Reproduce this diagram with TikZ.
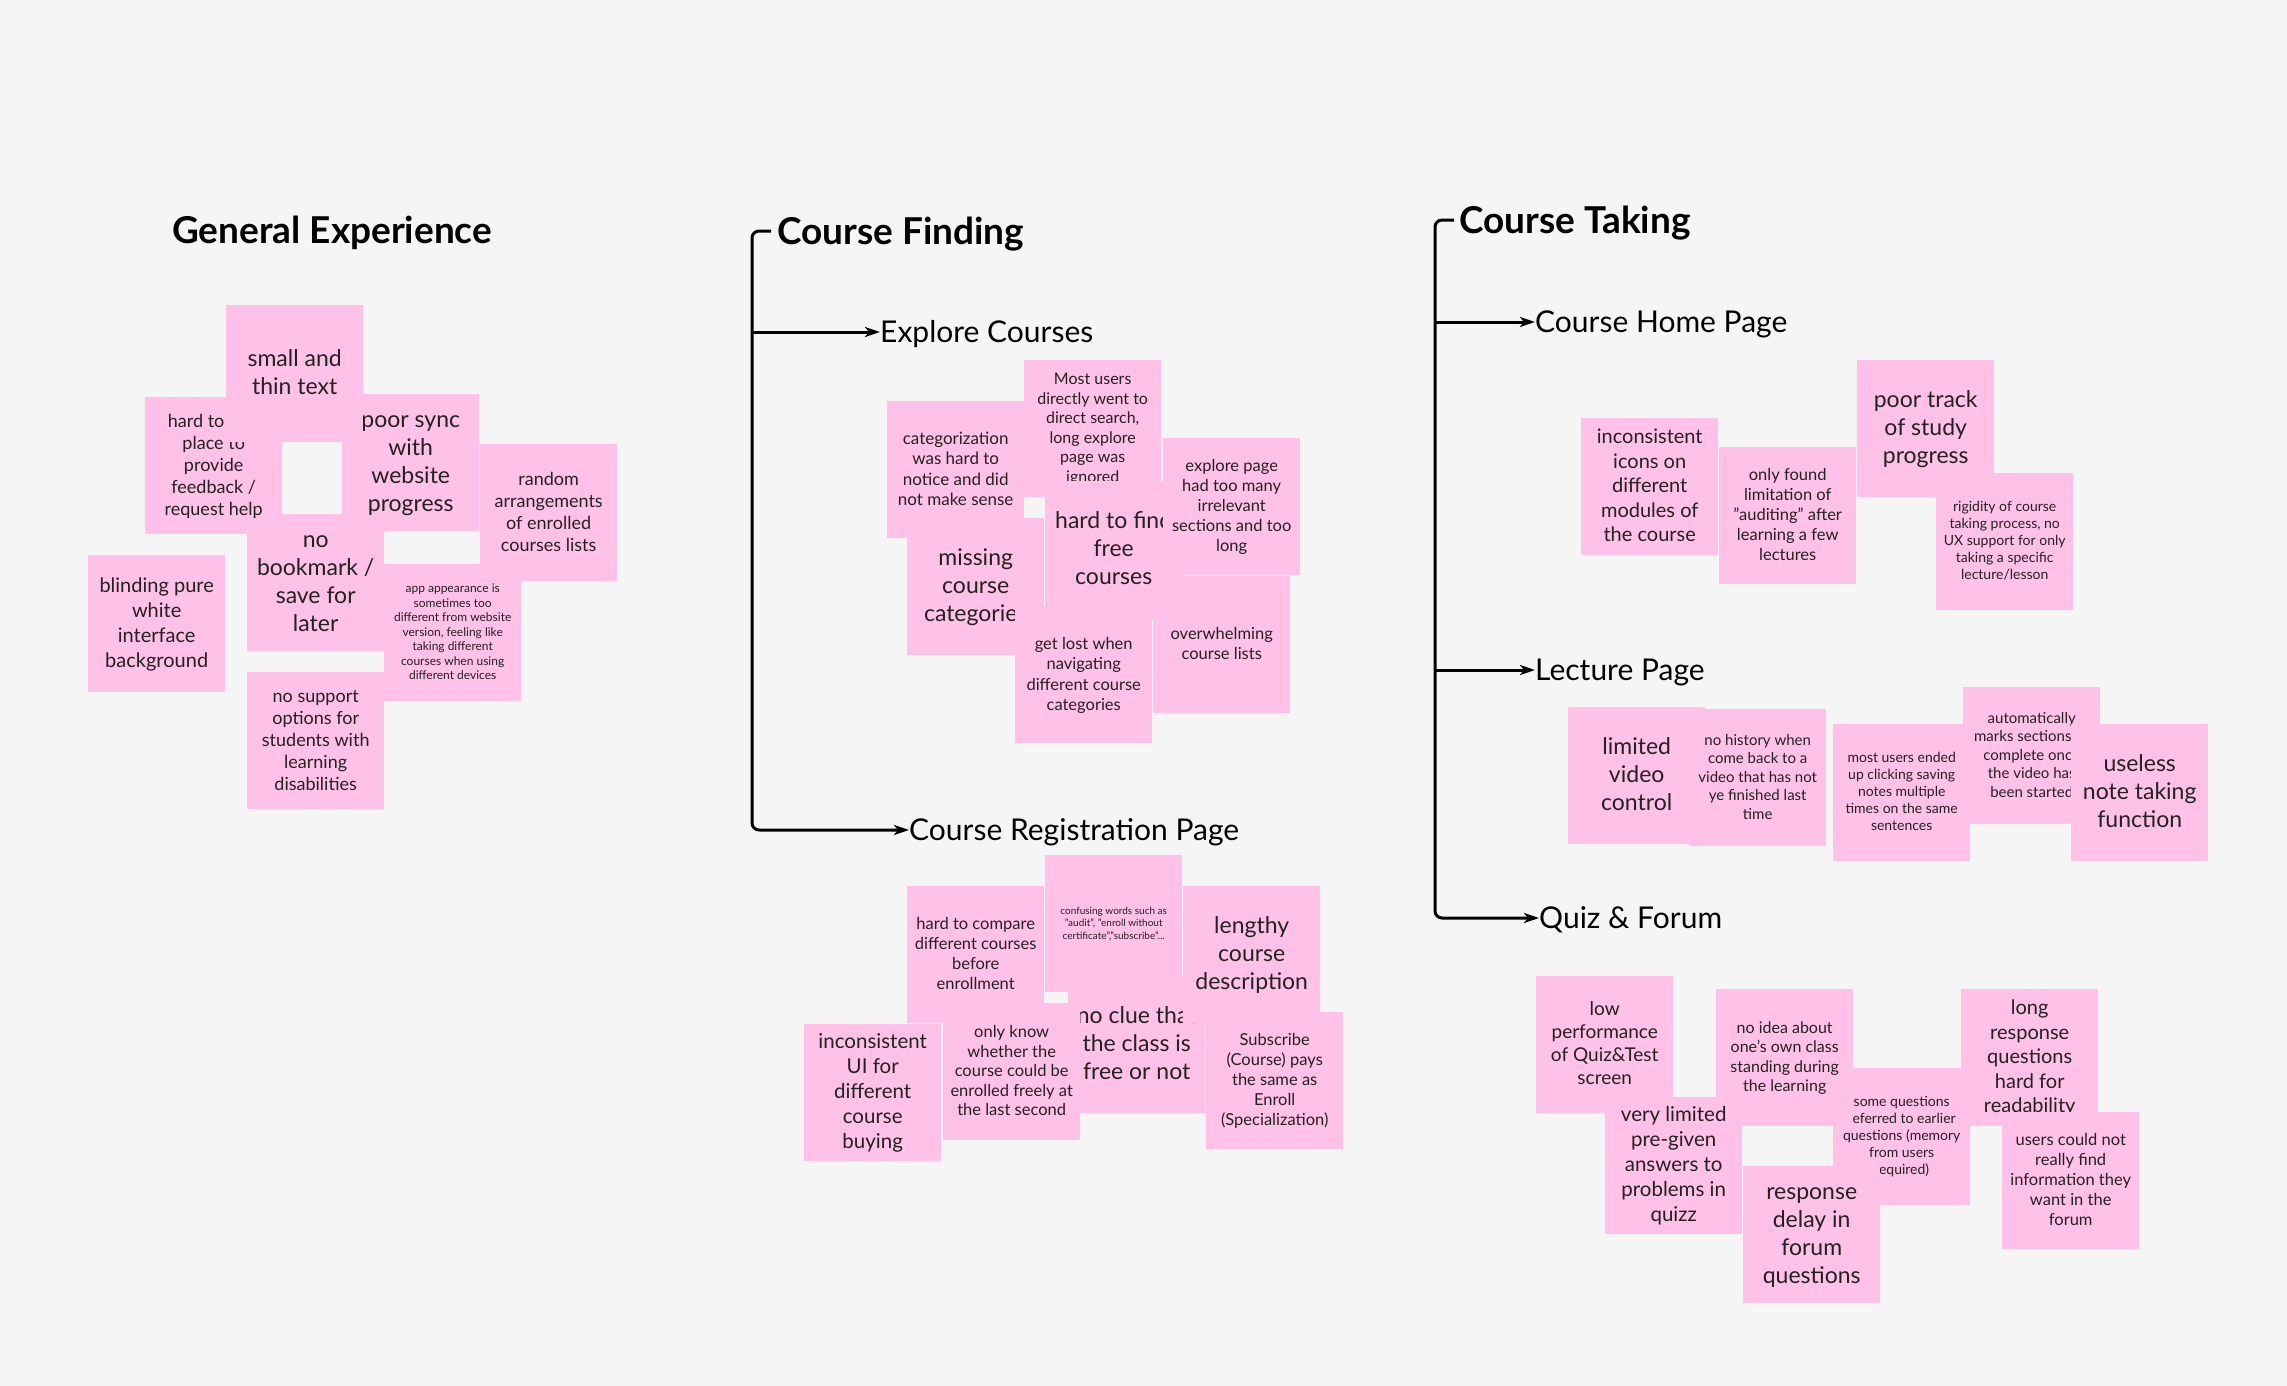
\documentclass[tikz,border=0pt]{standalone}
\usepackage{fontspec}
\setmainfont{Lato}
\usetikzlibrary{arrows.meta}
\definecolor{bgc}{HTML}{F5F5F5}
\definecolor{stickypink}{HTML}{FFC1E8}
\definecolor{stickytext}{HTML}{222222}
\newcommand\fsz[2]{\fontsize{#1}{#2}\selectfont}
\newcommand\st{\vrule height 0.75\baselineskip depth 0.25\baselineskip width 0pt}
\begin{document}
\begin{tikzpicture}[x=1pt,y=-1pt,
  sticky/.style={fill=stickypink, minimum width=137pt, minimum height=137pt, inner sep=0pt, align=center, text=stickytext, anchor=north west},
  fa/.style={font=\fsz{23}{28}},
  fb/.style={font=\fsz{20}{24.5}},
  fc/.style={font=\fsz{18}{22}},
  fd/.style={font=\fsz{16.5}{20}},
  fe/.style={font=\fsz{15}{18.5}},
  ff/.style={font=\fsz{14}{17}},
  titlestyle/.style={font=\fsz{37}{44}\bfseries, inner sep=0pt, anchor=west, text=black, text height=26.5pt, text depth=0pt},
  substyle/.style={font=\fsz{30}{36}, inner sep=0pt, anchor=west, text=black, text height=21.5pt, text depth=0pt},
  spine/.style={line width=3pt, black},
  tipped/.style={-{Stealth[length=15pt,width=10pt,inset=4pt]}}]
\fill[bgc] (0,0) rectangle (2287,1386);
\useasboundingbox (0,0) rectangle (2287,1386);

% ---------- headings ----------
\node[titlestyle] (geT) at (172,230) {General Experience};
\node[titlestyle] (cfT) at (777,231) {Course Finding};
\node[titlestyle] (ctT) at (1459,220) {Course Taking};
\node[substyle] (cfE) at (880,332) {Explore Courses};
\node[substyle] (cfR) at (909,830) {Course Registration Page};
\node[substyle] (ctH) at (1535,322) {Course Home Page};
\node[substyle] (ctL) at (1535,670) {Lecture Page};
\node[substyle] (ctQ) at (1539,918) {Quiz \& Forum};

% ---------- spines ----------
\coordinate (cfTop) at (752,231);
\coordinate (cfBot) at (752,830);
\draw[spine, tipped, rounded corners=7pt] ([xshift=-6pt]cfT.west) -- (cfTop) -- (cfBot) -- (cfR.west);
\draw[spine, tipped] (cfTop |- cfE.west) -- (cfE.west);

\coordinate (ctTop) at (1435,220);
\coordinate (ctBot) at (1435,918);
\draw[spine, tipped, rounded corners=7pt] ([xshift=-5pt]ctT.west) -- (ctTop) -- (ctBot) -- (ctQ.west);
\draw[spine, tipped] (ctTop |- ctH.west) -- (ctH.west);
\draw[spine, tipped] (ctTop |- ctL.west) -- (ctL.west);

% ---------- General Experience ----------
\node[sticky, font=\fsz{20}{25}] (gBlind) at (88,555) {\st blinding pure\\white\\interface\\background\st};
\node[sticky, fa] (gBook) at (247,514) {\st no\\bookmark /\\save for\\later\st};
\node[sticky, fc] (gHard) at (145,397) {\st hard to find\\place to\\provide\\feedback /\\request help\st};
\node[sticky, fa] (gSync) at (342,394) {\st poor sync\\with\\website\\progress\st};
\node[sticky, fa] (gSmall) at (226,305) {\st small and\\thin text\st};
\node[sticky, fc] (gRandom) at (480,444) {\st random\\arrangements\\of enrolled\\courses lists\st};
\node[sticky, font=\fsz{12}{14.5}] (gApp) at (384,564) {\st app appearance is\\sometimes too\\different from website\\version, feeling like\\taking different\\courses when using\\different devices\st};
\node[sticky, fc] (gSupport) at (247,672) {\st no support\\options for\\students with\\learning\\disabilities\st};

% ---------- Explore Courses ----------
\node[sticky, font=\fsz{17}{20.5}] (eCat) at (887,401) {\st categorization\\was hard to\\notice and did\\not make sense\st};
\node[sticky, fa] (eMiss) at (907,518) {\st missing\\course\\categories\st};
\node[sticky, font=\fsz{16}{19.5}] (eMost) at (1024,360) {\st Most users\\directly went to\\direct search,\\long explore\\page was\\ignored\st};
\node[sticky, font=\fsz{16.5}{20.5}] (eLost) at (1015,606) {\st get lost when\\navigating\\different course\\categories\st};
\node[sticky, fa] (eFree) at (1045,481) {\st hard to find\\free\\courses\st};
\node[sticky, fd] (eExpl) at (1163,438) {\st explore page\\had too many\\irrelevant\\sections and too\\long\st};
\node[sticky, fd] (eOver) at (1153,576) {\st overwhelming\\course lists\st};

% ---------- Course Registration Page ----------
\node[sticky, fd] (rComp) at (907,886) {\st hard to compare\\different courses\\before\\enrollment\st};
\node[sticky, fa] (rClue) at (1068,976) {\st no clue that\\the class is\\free or not\st};
\node[sticky, font=\fsz{10}{12.5}] (rConf) at (1045,855) {\st confusing words such as\\"audit", "enroll without\\certificate","subscribe"...\st};
\node[sticky, fa] (rLen) at (1183,886) {\st lengthy\\course\\description\st};
\node[sticky, font=\fsz{16.5}{19.5}] (rOnly) at (943,1003) {\st only know\\whether the\\course could be\\enrolled freely at\\the last second\st};
\node[sticky, font=\fsz{20.5}{25}] (rUI) at (804,1024) {\st inconsistent\\UI for\\different\\course\\buying\st};
\node[sticky, fd] (rSub) at (1206,1012) {\st Subscribe\\(Course) pays\\the same as\\Enroll\\(Specialization)\st};

% ---------- Course Home Page ----------
\node[sticky, fb] (hIcons) at (1581,418) {\st inconsistent\\icons on\\different\\modules of\\the course\st};
\node[sticky, fd] (hOnly) at (1719,447) {\st only found\\limitation of\\"auditing" after\\learning a few\\lectures\st};
\node[sticky, fa] (hTrack) at (1857,360) {\st poor track\\of study\\progress\st};
\node[sticky, ff] (hRigid) at (1936,473) {\st rigidity of course\\taking process, no\\UX support for only\\taking a specific\\lecture/lesson\st};

% ---------- Lecture Page ----------
\node[sticky, fa] (lLim) at (1568,707) {\st limited\\video\\control\st};
\node[sticky, fe] (lHist) at (1689,709) {\st no history when\\come back to a\\video that has not\\ye finished last\\time\st};
\node[sticky, ff] (lMost) at (1833,724) {\st most users ended\\up clicking saving\\notes multiple\\times on the same\\sentences\st};
\node[sticky, fe] (lAuto) at (1963,687) {\st automatically\\marks sections as\\complete once\\the video has\\been started\st};
\node[sticky, fa] (lUse) at (2071,724) {\st useless\\note taking\\function\st};

% ---------- Quiz & Forum ----------
\node[sticky, font=\fsz{19}{23}] (qLow) at (1536,976) {\st low\\performance\\of Quiz\&Test\\screen\st};
\node[sticky, ff] (qSome) at (1833,1068) {\st some questions\\referred to earlier\\questions (memory\\from users\\required)\st};
\node[sticky, font=\fsz{16}{19.5}] (qIdea) at (1716,989) {\st no idea about\\one's own class\\standing during\\the learning\st};
\node[sticky, font=\fsz{20.5}{25}] (qLim) at (1605,1097) {\st very limited\\pre-given\\answers to\\problems in\\quizz\st};
\node[sticky, fa] (qResp) at (1743,1166) {\st response\\delay in\\forum\\questions\st};
\node[sticky, fb] (qLong) at (1961,989) {\st long\\response\\questions\\hard for\\readability\st};
\node[sticky, fd] (qUsers) at (2002,1112) {\st users could not\\really find\\information they\\want in the\\forum\st};
\end{tikzpicture}
\end{document}
